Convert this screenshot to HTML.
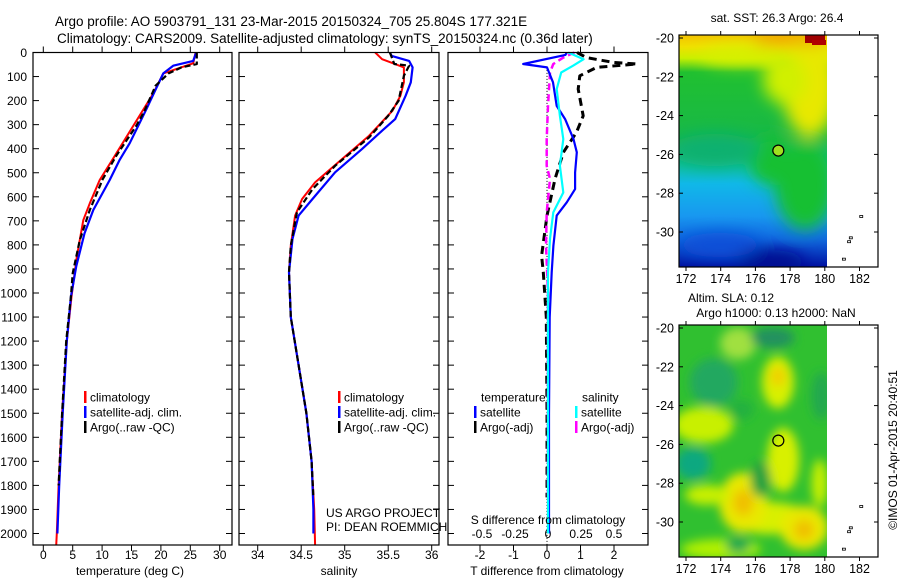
<!DOCTYPE html>
<html><head><meta charset="utf-8">
<style>
body{margin:0;background:#fff;}
svg{display:block;font-family:"Liberation Sans",sans-serif;}
</style></head>
<body>
<svg id="fig" width="900" height="580" viewBox="0 0 900 580" xmlns="http://www.w3.org/2000/svg">
<defs>
<filter id="blur6" x="-50%" y="-50%" width="200%" height="200%"><feGaussianBlur stdDeviation="5"/></filter>
<filter id="blur10" x="-50%" y="-50%" width="200%" height="200%"><feGaussianBlur stdDeviation="8"/></filter>
<clipPath id="clipMap1"><rect x="679" y="35" width="148" height="232"/></clipPath>
<clipPath id="clipMap2"><rect x="679" y="325" width="148" height="232"/></clipPath>
<linearGradient id="sstGrad" x1="0" y1="0" x2="0" y2="1">
<stop offset="0" stop-color="#f4c200"/><stop offset="0.05" stop-color="#f0e000"/><stop offset="0.1" stop-color="#c8f000"/>
<stop offset="0.16" stop-color="#20c030"/><stop offset="0.45" stop-color="#18b848"/><stop offset="0.56" stop-color="#10c0a0"/>
<stop offset="0.64" stop-color="#10b8e8"/><stop offset="0.78" stop-color="#1898f0"/><stop offset="0.88" stop-color="#1068e0"/><stop offset="1" stop-color="#0010a0"/>
</linearGradient>
</defs>
<g id="root"></g>
</svg>
<script>
// ---------- data ----------
const climT_depth = [0,45,87,170,281,440,530,627,697,850,1016,1200,1500,1800,2000,2050];
const climT_val   = [25.9,25.5,20.4,18.7,15.9,11.9,9.6,7.9,6.8,5.7,4.8,4.0,3.2,2.6,2.3,2.2];
const satT_depth  = [0,35,55,87,149,232,377,446,530,655,752,890,1016,1200,1500,1800,2000];
const satT_val    = [26.0,25.5,22.1,20.4,19.2,17.6,14.7,13.0,11.3,8.5,7.0,5.6,4.7,4.0,3.3,2.7,2.4];
const argoT_depth = [0,48,62,87,138,249,305,430,527,655,780,918,1016,1200,1500,1800];
const argoT_val   = [26.1,26.1,23.5,21.3,19.1,17.1,15.8,12.4,10.1,7.9,6.2,5.0,4.7,3.9,3.2,2.6];
const climS_depth = [0,28,44,62,124,180,242,346,443,540,609,678,803,914,1100,1300,1500,1700,1900,2050];
const climS_val   = [35.35,35.43,35.55,35.68,35.68,35.64,35.55,35.28,34.97,34.66,34.51,34.43,34.38,34.36,34.38,34.47,34.56,34.62,34.65,34.66];
const satS_depth  = [0,14,35,62,124,180,277,325,401,498,609,678,775,914,1100,1300,1500,1700,1900,2000];
const satS_val    = [35.52,35.54,35.74,35.78,35.76,35.70,35.58,35.43,35.20,34.89,34.63,34.47,34.40,34.36,34.38,34.47,34.56,34.62,34.64,34.64];
const argoS_depth = [0,48,55,97,201,263,353,471,568,665,803,914,1100,1300,1500,1700,1850];
const argoS_val   = [35.52,35.57,35.74,35.68,35.62,35.50,35.28,34.89,34.63,34.45,34.38,34.36,34.38,34.47,34.56,34.62,34.64];
const dTsat_depth = [0,10,48,62,124,222,277,360,415,499,568,623,678,803,914,1100,1500,2000];
const dTsat_val   = [0.59,0.55,-0.71,0,0.18,0.29,0.54,0.79,0.89,0.84,0.84,0.59,0.29,0.19,0.14,0.08,0.06,0.06];
const dTargo_depth= [0,21,41,48,62,97,152,263,332,415,526,678,845,914,1100,1500,1850];
const dTargo_val  = [0.9,1.18,1.98,2.68,1.48,0.98,0.93,1.08,0.88,0.49,0.24,0,-0.16,-0.11,-0.02,0,0];
const dSsat_depth = [0,28,55,83,152,263,360,471,582,665,775,914,1200,1600,2000];
const dSsat_val   = [0.154,0.27,0.19,0.10,0.066,0.09,0.116,0.09,0.116,0.04,0.015,0,0,0,0];
const dSargo_depth= [0,21,48,83,222,360,471,526,665,803,1000,1400,1850];
const dSargo_val  = [0.2,0.116,0.04,0.015,0,-0.01,-0.01,0.015,-0.01,-0.015,0,0,0];
const depthTicks = [0,100,200,300,400,500,600,700,800,900,1000,1100,1200,1300,1400,1500,1600,1700,1800,1900,2000];
const tempTicks = [0,5,10,15,20,25,30];
const salTicks = [34,34.5,35,35.5,36];
const tDiffTicks = [-2,-1,0,1,2];
const sDiffTicks = [-0.5,-0.25,0,0.25,0.5];
const lonTicks = [172,174,176,178,180,182];
const latTicks = [-20,-22,-24,-26,-28,-30];
const floatLon = 177.321, floatLat = -25.804;

// ---------- scales ----------
const NS="http://www.w3.org/2000/svg";
const root=document.getElementById('root');
const yD = d => 52.5 + d*0.2405;
const xT = t => 43.3 + t*5.88;
const xS = s => 257.7 + (s-34)*87;
const xTd = t => 547 + t*33.5;
const xSd = s => 548 + s*132;
const xLon = l => 686 + (l-172)*17.35;
const yLat1 = l => 38 + (-20-l)*19.4;
const yLat2 = l => 328 + (-20-l)*19.4;

function el(tag, attrs, parent){
  const e=document.createElementNS(NS,tag);
  for(const k in attrs) e.setAttribute(k,attrs[k]);
  (parent||root).appendChild(e); return e;
}
function txt(x,y,s,size,anchor,parent,name){
  const t=el('text',{x:x,y:y,'font-size':size,'text-anchor':anchor||'start',fill:'#000'},parent);
  t.textContent=s;
  
  
  return t;
}
function line(xs,ys,xf,color,w,dash,name){
  const pts=xs.map((v,i)=>xf(v).toFixed(1)+','+yD(ys[i]).toFixed(1)).join(' ');
  const p=el('polyline',{points:pts,fill:'none',stroke:color,'stroke-width':w,'stroke-linejoin':'round'});
  if(dash) p.setAttribute('stroke-dasharray',dash);
  
  
}
function box(x0,x1,y0,y1,name){
  const r=el('rect',{x:x0,y:y0,width:x1-x0,height:y1-y0,fill:'none',stroke:'#000','stroke-width':1.2});
  
  
}
function tickX(x,y0,y1,len){ el('line',{x1:x,x2:x,y1:y0,y2:y0+len,stroke:'#000'}); el('line',{x1:x,x2:x,y1:y1,y2:y1-len,stroke:'#000'}); }
function tickY(y,x0,x1,len){ el('line',{x1:x0,x2:x0+len,y1:y,y2:y,stroke:'#000'}); el('line',{x1:x1,x2:x1-len,y1:y,y2:y,stroke:'#000'}); }

const TOP=52.5, BOT=545;
txt(55,26,'Argo profile: AO 5903791_131 23-Mar-2015 20150324_705 25.804S 177.321E',13.5,'start',null,'title-line-1');
txt(57,43,'Climatology: CARS2009. Satellite-adjusted climatology: synTS_20150324.nc (0.36d later)',13.5,'start',null,'title-line-2');

// Panel 1
const P1=[33,232];
depthTicks.forEach(d=>{ tickY(yD(d),P1[0],P1[1],6); txt(27,yD(d)+4.5,String(d),12,'end',null,'y-tick-label'); });
tempTicks.forEach(t=>{ tickX(xT(t),BOT,TOP,6); txt(xT(t),559,String(t),12,'middle',null,'x-tick-label'); });
line(climT_val,climT_depth,xT,'#ff0000',2,null,'clim-temp-line');
line(satT_val,satT_depth,xT,'#0000ff',2.2,null,'sat-temp-line');
line(argoT_val,argoT_depth,xT,'#000',2.2,'6,3','argo-temp-line');
box(P1[0],P1[1],TOP,BOT,'temperature-panel');
txt(130,575,'temperature (deg C)',12,'middle',null,'x-axis-title-temperature');

// Panel 2
const P2=[239,439];
depthTicks.forEach(d=>tickY(yD(d),P2[0],P2[1],6));
salTicks.forEach(s=>{ tickX(xS(s),BOT,TOP,6); txt(xS(s),559,String(s),12,'middle',null,'x-tick-label'); });
line(climS_val,climS_depth,xS,'#ff0000',2,null,'clim-sal-line');
line(satS_val,satS_depth,xS,'#0000ff',2.2,null,'sat-sal-line');
line(argoS_val,argoS_depth,xS,'#000',2.2,'6,3','argo-sal-line');
box(P2[0],P2[1],TOP,BOT,'salinity-panel');
txt(339,575,'salinity',12,'middle',null,'x-axis-title-salinity');
txt(326,517,'US ARGO PROJECT',12,'start',null,'credit-project');
txt(326,531,'PI: DEAN ROEMMICH',12,'start',null,'credit-pi');

// Panel 3
const P3=[448,648];
depthTicks.forEach(d=>tickY(yD(d),P3[0],P3[1],6));
tDiffTicks.forEach(t=>{ tickX(xTd(t),BOT,TOP,6); txt(xTd(t),559,String(t),12,'middle',null,'t-diff-tick-label'); });
sDiffTicks.forEach(s=>{ txt(xSd(s),538,String(s),12,'middle',null,'s-diff-tick-label'); });
el('line',{x1:xTd(0),x2:xTd(0),y1:yD(60),y2:BOT,stroke:'#000','stroke-width':1,'stroke-dasharray':'1,2'});
line(dTargo_val,dTargo_depth,xTd,'#000',3,'8,5','argo-temp-diff-line');
line(dSargo_val,dSargo_depth,xSd,'#ff00ff',2.5,'7,4','argo-sal-diff-line');
line(dTsat_val,dTsat_depth,xTd,'#0000ff',2.2,null,'sat-temp-diff-line');
line(dSsat_val,dSsat_depth,xSd,'#00ffff',2.2,null,'sat-sal-diff-line');
box(P3[0],P3[1],TOP,BOT,'difference-panel');
txt(548,524,'S difference from climatology',12,'middle',null,'s-diff-axis-title');
txt(547,575,'T difference from climatology',12,'middle',null,'t-diff-axis-title');

function legend(x,y,color,label,name){
  const m=el('rect',{x:x,y:y-6,width:2.5,height:12,fill:color});
  
  
  txt(x+6,y+4.5,label,12,'start',null,name);
}
legend(84,397,'#ff0000','climatology','legend-climatology');
legend(84,412,'#0000ff','satellite-adj. clim.','legend-satellite-adj');
legend(84,427,'#000','Argo(..raw -QC)','legend-argo');
legend(338,397,'#ff0000','climatology','legend-climatology-2');
legend(338,412,'#0000ff','satellite-adj. clim.','legend-satellite-adj-2');
legend(338,427,'#000','Argo(..raw -QC)','legend-argo-2');
txt(481,401.5,'temperature',12,'start',null,'legend-temperature-header');
txt(582,401.5,'salinity',12,'start',null,'legend-salinity-header');
legend(474,412,'#0000ff','satellite','legend-t-satellite');
legend(474,427,'#000','Argo(-adj)','legend-t-argo');
legend(575,412,'#00ffff','satellite','legend-s-satellite');
legend(575,427,'#ff00ff','Argo(-adj)','legend-s-argo');

// ---------- maps ----------
function mapFrame(yLat,y0,y1,name){
  const r=el('rect',{x:679,y:y0,width:199,height:y1-y0,fill:'none',stroke:'#000','stroke-width':1.2});
  
  
  lonTicks.forEach(l=>{ tickX(xLon(l),y1,y0,4); txt(xLon(l),y1+16,String(l),12.5,'middle',null,'lon-tick-label'); });
  latTicks.forEach(l=>{ tickY(yLat(l),679,878,4); txt(674,yLat(l)+4.5,String(l),12.5,'end',null,'lat-tick-label'); });
  [[182.1,-29.2],[181.5,-30.3],[181.4,-30.5],[181.1,-31.4]].forEach(p=>el('rect',{x:xLon(p[0])-1.5,y:yLat(p[1])-1,width:3,height:2,fill:'none',stroke:'#000','stroke-width':0.8}));
}
// SST map
const g1=el('g',{'clip-path':'url(#clipMap1)'});


el('rect',{x:679,y:35,width:148,height:232,fill:'url(#sstGrad)'},g1);
const gb1=el('g',{filter:'url(#blur10)'},g1);
el('ellipse',{cx:810,cy:85,rx:28,ry:52,fill:'#e8e800'},gb1);
el('ellipse',{cx:785,cy:80,rx:22,ry:24,fill:'#d0f000'},gb1);
el('ellipse',{cx:740,cy:55,rx:40,ry:10,fill:'#d8f000'},gb1);
el('ellipse',{cx:805,cy:185,rx:30,ry:45,fill:'#18c030'},gb1);
el('ellipse',{cx:770,cy:160,rx:20,ry:25,fill:'#18c030'},gb1);
el('ellipse',{cx:715,cy:150,rx:45,ry:16,fill:'#10b070'},gb1);
el('ellipse',{cx:770,cy:262,rx:35,ry:12,fill:'#000890'},gb1);
el('ellipse',{cx:720,cy:245,rx:40,ry:12,fill:'#1050d8'},gb1);
el('rect',{x:755,y:30,width:72,height:14,fill:'#f0a000'},gb1);
el('rect',{x:805,y:35,width:20,height:8,fill:'#a00000'},g1);
el('rect',{x:812,y:40,width:14,height:5,fill:'#b00000'},g1);
el('circle',{cx:xLon(floatLon),cy:yLat1(floatLat),r:5.5,fill:'#a0e020',stroke:'#000','stroke-width':1.2});
mapFrame(yLat1,35,267,'sst-map-frame');
txt(777,22,'sat. SST: 26.3 Argo: 26.4',12,'middle',null,'sst-map-title');

// SLA map
const g2=el('g',{'clip-path':'url(#clipMap2)'});


el('rect',{x:679,y:325,width:148,height:232,fill:'#30c030'},g2);
const gb2=el('g',{filter:'url(#blur6)'},g2);
[[177.3,-22.8,16,26,'#d8f000'],[177.6,-26.8,16,32,'#d8f000'],[176.8,-29.8,40,16,'#d8f000'],[175.3,-29,24,30,'#e8e800'],[178.8,-30.3,24,22,'#e8e800'],
 [173,-25,30,18,'#c8f000'],[175,-20.8,18,16,'#a0e040'],[179.7,-28,8,24,'#c8f000'],[174,-31.4,40,10,'#b0f000'],[173.2,-28.6,22,10,'#c8f000'],
 [175.3,-29,10,13,'#f0c000'],[178.8,-30.4,10,10,'#f0c000'],[177.3,-22.5,8,10,'#f0d000']].forEach(b=>el('ellipse',{cx:xLon(b[0]),cy:yLat2(b[1]),rx:b[2],ry:b[3],fill:b[4]},gb2));
[[173.6,-22.8,24,24,'#20a860'],[172.4,-27,18,16,'#10a880'],[177,-20.5,22,10,'#209060'],[176.3,-27.8,10,18,'#20a040'],
 [179.8,-23.5,10,24,'#20a850'],[175,-31.2,12,8,'#20a850'],[175.2,-24.2,12,10,'#20b040']].forEach(b=>el('ellipse',{cx:xLon(b[0]),cy:yLat2(b[1]),rx:b[2],ry:b[3],fill:b[4]},gb2));
el('circle',{cx:xLon(floatLon),cy:yLat2(floatLat),r:5.5,fill:'none',stroke:'#000','stroke-width':1.2});
mapFrame(yLat2,325,557,'sla-map-frame');
txt(731,302,'Altim. SLA: 0.12',12,'middle',null,'sla-map-title');
txt(776,317,'Argo h1000: 0.13 h2000: NaN',12,'middle',null,'sla-map-subtitle');
const cp=txt(0,0,'©IMOS 01-Apr-2015 20:40:51',12,'middle',null,'copyright-timestamp');
cp.setAttribute('transform','translate(897,450) rotate(-90)');
</script>
</body></html>
